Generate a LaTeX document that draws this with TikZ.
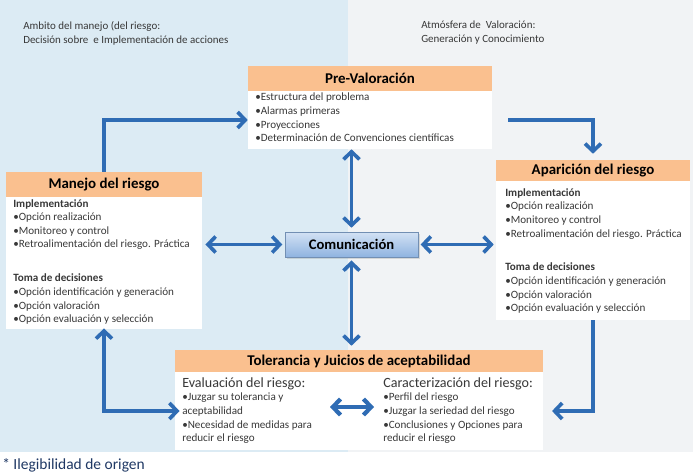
\documentclass[tikz,border=0pt]{standalone}
\usepackage{fontspec}
\setmainfont{Carlito}
\usetikzlibrary{arrows.meta,fit,shadows}
\definecolor{hdrorange}{HTML}{FAC08F}
\definecolor{leftbg}{HTML}{DCEBF4}
\definecolor{rightbg}{HTML}{F1F3F5}
\definecolor{flowblue}{HTML}{2F6CB4}
\definecolor{txtgray}{HTML}{383838}
\definecolor{notenavy}{HTML}{1F3864}
\definecolor{comtop}{HTML}{D3E2F4}
\definecolor{combot}{HTML}{8FB3E0}

\begin{document}
\begin{tikzpicture}[x=0.025cm,y=-0.025cm,
    hdr/.style={fill=hdrorange,inner sep=0pt},
    hdrtext/.style={inner sep=0pt,font=\fontsize{10.6}{12}\selectfont\bfseries},
    body/.style={fill=white,inner sep=0pt},
    txt/.style={anchor=north west,inner sep=0pt,align=left,text=txtgray,
        font=\fontsize{7.9}{9.7}\selectfont},
    subtit/.style={anchor=north west,inner sep=0pt,text=txtgray,
        font=\fontsize{10}{12}\selectfont},
    barb/.tip={Straight Barb[length=1.9mm,width=4mm]},
    flow/.style={draw=flowblue,line width=2.6pt,-barb},
    both/.style={draw=flowblue,line width=2.6pt,barb-barb}]

    % fondos
    \useasboundingbox (0,0) rectangle (693,474);
    \fill[leftbg] (0,0) rectangle (348,452);
    \fill[rightbg] (348,0) rectangle (693,452);

    \node[txt,font=\fontsize{7.8}{9.9}\selectfont] (amb) at (23,21)
        {Ambito del manejo (del riesgo:\\Decisión sobre\ \ e Implementación de acciones};
    \node[txt,font=\fontsize{7.8}{9.9}\selectfont] (atm) at (421,21)
        {Atmósfera de\ \ Valoración:\\Generación y Conocimiento};

    % Pre-Valoracion
    \node[hdr,fit={(248,66) (492,91)},label={[hdrtext]center:Pre-Valoración}] (preh) {};
    \node[body,fit={(248,91) (492,149)}] (prebody) {};
    \node[txt] (pretxt) at (255,93)
        {•Estructura del problema\\
         •Alarmas primeras\\
         •Proyecciones\\
         •Determinación de Convenciones científicas};

    % Manejo del riesgo
    \node[hdr,fit={(6,172) (202,197)},label={[hdrtext]center:Manejo del riesgo}] (manh) {};
    \node[body,fit={(6,197) (202,329)}] (manbody) {};
    \node[txt] (mantxt) at (13,199)
        {\textbf{Implementación}\\
         •Opción realización\\
         •Monitoreo y control\\
         •Retroalimentación del riesgo. Práctica\\[14.4pt]
         \textbf{Toma de decisiones}\\
         •Opción identificación y generación\\
         •Opción valoración\\
         •Opción evaluación y selección};

    % Aparicion del riesgo
    \node[hdr,fit={(496,160) (690,181)},label={[hdrtext]center:Aparición del riesgo}] (aph) {};
    \node[body,fit={(496,181) (690,320)}] (apbody) {};
    \node[txt] (aptxt) at (505,188)
        {\textbf{Implementación}\\
         •Opción realización\\
         •Monitoreo y control\\
         •Retroalimentación del riesgo. Práctica\\[14.4pt]
         \textbf{Toma de decisiones}\\
         •Opción identificación y generación\\
         •Opción valoración\\
         •Opción evaluación y selección};

    % Tolerancia
    \node[hdr,fit={(175,350) (543,372)},
        label={[hdrtext]center:Tolerancia y Juicios de aceptabilidad}] (tolh) {};
    \node[body,fit={(175,372) (543,450)}] (tolbody) {};
    \node[subtit] (evaltit) at (182,377) {Evaluación del riesgo:};
    \node[txt] (evaltxt) at (182,393)
        {•Juzgar su tolerancia y\\
         aceptabilidad\\
         •Necesidad de medidas para\\
         reducir el riesgo};
    \node[subtit] (cartit) at (383,377) {Caracterización del riesgo:};
    \node[txt] (cartxt) at (383,393)
        {•Perfil del riesgo\\
         •Juzgar la seriedad del riesgo\\
         •Conclusiones y Opciones para\\
         reducir el riesgo};
    \coordinate (mL) at (330,407);
    \coordinate (mR) at (374,407);

    % Comunicacion
    \node[fit={(285,232) (418,257)},inner sep=0pt,draw=combot!80!black,line width=0.4pt,
        top color=comtop,bottom color=combot,
        drop shadow={opacity=0.25,shadow xshift=0.05cm,shadow yshift=-0.05cm},
        label={[inner sep=0pt,font=\fontsize{10.4}{12}\selectfont\bfseries]center:Comunicación}]
        (com) {};

    % flechas
    \draw[flow] (manh.north) |- (prebody.west);
    \draw[flow,shorten <=0.4cm,shorten >=0.15cm] (prebody.east) -| (aph.north);
    \draw[flow,shorten >=0.22cm] (apbody.south) |- (tolbody.east);
    \draw[both,shorten <=-0.02cm,shorten >=-0.12cm] (manbody.south) |- (tolbody.west);
    \draw[both,shorten >=0.1cm] (prebody.south -| com.north) -- (com.north);
    \draw[both,shorten <=0.08cm,shorten >=0.1cm] (com.south) -- (com.south |- tolh.north);
    \draw[both,shorten <=0.08cm,shorten >=0.06cm] (com.west -| manbody.east) -- (com.west);
    \draw[both,shorten <=0.06cm,shorten >=0.05cm] (com.east) -- (com.east -| apbody.west);
    \draw[both,line width=3pt] (mL) -- (mR);

    \node[anchor=west,inner sep=0pt,text=notenavy,font=\fontsize{11}{13}\selectfont]
        (nota) at (2,465) {* Ilegibilidad de origen};
\end{tikzpicture}
\end{document}
